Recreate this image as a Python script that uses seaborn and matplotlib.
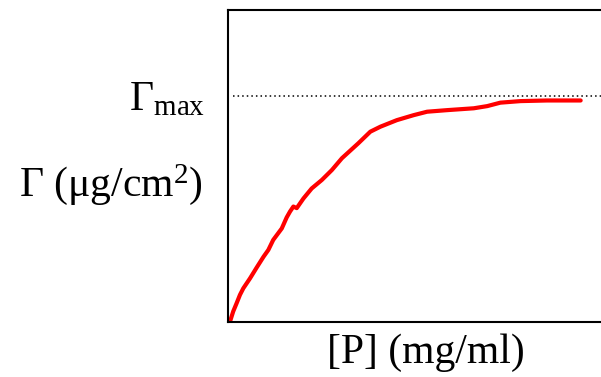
import matplotlib
matplotlib.use("Agg")
import matplotlib.pyplot as plt
import pandas as pd
import seaborn as sns

# adsorption isotherm (arbitrary units)
conc = [0.0, 0.05, 0.14, 0.23, 0.32, 0.41, 0.59, 0.77, 0.95, 1.08, 1.21, 1.44,
        1.57, 1.66, 1.75, 1.84, 2.02, 2.24, 2.51, 2.78, 3.05, 3.49, 3.81, 4.08,
        4.52, 4.97, 5.33, 5.86, 6.58, 6.94, 7.29, 7.83, 8.54, 9.44]
gamma = [0.0, 0.0, 0.034, 0.060, 0.087, 0.108, 0.140, 0.175, 0.209, 0.231, 0.263,
         0.300, 0.335, 0.354, 0.370, 0.365, 0.396, 0.428, 0.455, 0.487, 0.525,
         0.573, 0.610, 0.626, 0.647, 0.663, 0.674, 0.679, 0.685, 0.692, 0.703,
         0.708, 0.710, 0.710]
gamma_max = 0.725

df = pd.DataFrame({'conc': conc, 'gamma': gamma})

sns.set_style('white')
plt.rcParams['font.family'] = ['Liberation Serif', 'DejaVu Serif']
plt.rcParams['mathtext.fontset'] = 'custom'
plt.rcParams['mathtext.rm'] = 'Liberation Serif'
plt.rcParams['mathtext.it'] = 'Liberation Serif:italic'
plt.rcParams['text.color'] = 'black'
plt.rcParams['axes.labelcolor'] = 'black'

fig = plt.figure(figsize=(6.01, 3.77), dpi=100)
ax = fig.add_axes([228 / 601, 55 / 377, 396 / 601, 312 / 377])

sns.lineplot(data=df, x='conc', y='gamma', ax=ax, color='red', linewidth=3)
ax.axhline(gamma_max, xmin=0.012, xmax=1, color='black', lw=1.1, dashes=(1, 2))

ax.set_xlim(0, 10.6)
ax.set_ylim(0, 1)
ax.set_xticks([])
ax.set_yticks([])
for side in ['left', 'bottom', 'top', 'right']:
    ax.spines[side].set_color('black')
    ax.spines[side].set_linewidth(1.5)

ax.set_xlabel('[P] (mg/ml)', fontsize=30, labelpad=8, color='black')
ax.set_ylabel('')
ax.text(-0.058, gamma_max - 0.015, r'Γ$_{\rm max}$', transform=ax.transAxes,
        ha='right', va='center', fontsize=30, color='black')
ax.text(-0.063, 0.44, r'Γ (μg/cm$^2$)', transform=ax.transAxes,
        ha='right', va='center', fontsize=30, color='black')

fig.savefig('out.png', dpi=100)
